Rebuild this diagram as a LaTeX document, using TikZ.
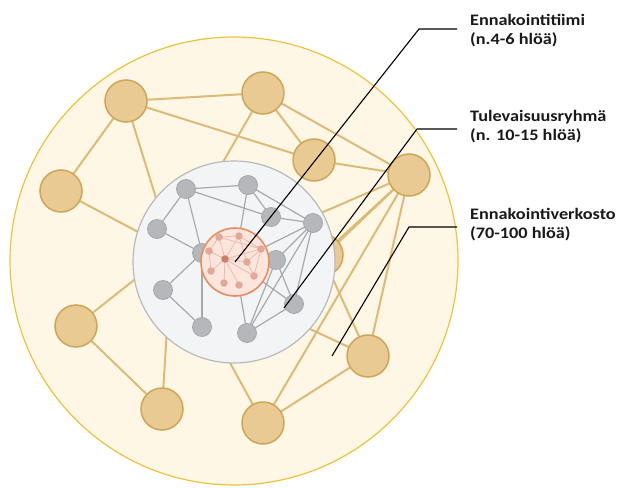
\documentclass[tikz,border=0pt]{standalone}
\usepackage{fontspec}
\setmainfont{Carlito}
\definecolor{creamfill}{RGB}{254,247,230}
\definecolor{creamline}{RGB}{238,195,60}
\definecolor{tanfill}{RGB}{232,202,146}
\definecolor{tanline}{RGB}{206,166,88}
\definecolor{tanedge}{RGB}{221,187,118}
\definecolor{greyfill}{RGB}{243,244,246}
\definecolor{greyline}{RGB}{185,186,190}
\definecolor{greynodefill}{RGB}{182,183,186}
\definecolor{greyedge}{RGB}{168,169,172}
\definecolor{pinkfill}{RGB}{251,229,221}
\definecolor{pinkline}{RGB}{233,140,98}
\definecolor{pinknode}{RGB}{228,168,150}
\definecolor{pinkcore}{RGB}{201,128,108}
\definecolor{pinkedge}{RGB}{236,183,166}
\begin{document}
\begin{tikzpicture}[
  x=1pt, y=-1pt,
  tannode/.style={circle, draw=tanline, fill=tanfill, line width=1.5pt, minimum size=42pt, inner sep=0pt},
  tanlink/.style={draw=tanedge, line width=2pt},
  greynode/.style={circle, draw=greyedge, fill=greynodefill, line width=0.8pt, minimum size=19pt, inner sep=0pt},
  greylink/.style={draw=greyedge, line width=1.2pt},
  pinknode/.style={circle, fill=pinknode, minimum size=7.5pt, inner sep=0pt},
  pinklink/.style={draw=pinkedge, line width=0.7pt},
  leader/.style={draw=black, line width=1.1pt},
  caption/.style={anchor=north west, align=left, inner sep=0pt, text=black!90,
    font=\bfseries\addfontfeature{FakeStretch=1.14}\fontsize{16}{19.5}\selectfont}
]
\useasboundingbox (0,0) rectangle (618,487);

% Outer network
\node[circle, draw=creamline, fill=creamfill, line width=1.2pt, minimum size=448pt, inner sep=0pt] (verkosto) at (234,261) {};

% Hidden ends under the inner circle
\coordinate (hidA) at (172,250);
\coordinate (hidB) at (300,222);
\coordinate (hidC) at (282,296);
\coordinate (hidD) at (212,330);
\coordinate (hidE) at (282,316);

% Links of the outer network
\draw[tanlink] (126,101) coordinate (t1) -- (263,93) coordinate (t2);
\draw[tanlink] (t1) -- (61,191) coordinate (t3);
\draw[tanlink] (t1) -- (hidA);
\draw[tanlink] (t1) -- (314,160) coordinate (t4);
\draw[tanlink] (t2) -- (t4);
\draw[tanlink] (t2) -- (409,175) coordinate (t5);
\draw[tanlink] (t2) -- (hidA);
\draw[tanlink] (t3) -- (hidA);
\draw[tanlink] (t4) -- (t5);
\draw[tanlink] (t5) -- (hidB);
\draw[tanlink] (t5) -- (hidC);
\draw[tanlink] (t5) -- (322,255) coordinate (t6);
\draw[tanlink] (t5) -- (263,423) coordinate (t9);
\draw[tanlink] (t5) -- (368,356) coordinate (t7);
\draw[tanlink] (t6) -- (t7);
\draw[tanlink] (t7) -- (t9);
\draw[tanlink] (t7) -- (hidE);
\draw[tanlink] (t9) -- (hidD);
\draw[tanlink] (76,326) coordinate (t10) -- (hidA);
\draw[tanlink] (t10) -- (162,409) coordinate (t8);
\draw[tanlink] (t8) -- (hidA);

% Nodes of the outer network
\node[tannode] (n1) at (t1) {};
\node[tannode] (n2) at (t2) {};
\node[tannode] (n3) at (t3) {};
\node[tannode] (n4) at (t4) {};
\node[tannode] (n5) at (t5) {};
\node[tannode] (n6) at (t6) {};
\node[tannode] (n7) at (t7) {};
\node[tannode] (n8) at (t8) {};
\node[tannode] (n9) at (t9) {};
\node[tannode] (n10) at (t10) {};

% Middle group
\node[circle, draw=greyline, fill=greyfill, line width=1.2pt, minimum size=202pt, inner sep=0pt] (ryhma) at (234,262) {};

\coordinate (g1) at (186,189);
\coordinate (g2) at (248,185);
\coordinate (g3) at (157,229);
\coordinate (g4) at (271,217);
\coordinate (g5) at (313,223);
\coordinate (g6) at (202,253);
\coordinate (g7) at (276,260);
\coordinate (g8) at (163,290);
\coordinate (g9) at (294,304);
\coordinate (g10) at (202,327);
\coordinate (g11) at (247,333);
\coordinate (hub) at (235,262);

\draw[greylink] (g1) -- (g2);
\draw[greylink] (g1) -- (g3);
\draw[greylink] (g1) -- (g6);
\draw[greylink] (g1) -- (g4);
\draw[greylink] (g2) -- (g4);
\draw[greylink] (g2) -- (g5);
\draw[greylink] (g2) -- (hub);
\draw[greylink] (g3) -- (g6);
\draw[greylink] (g4) -- (g5);
\draw[greylink] (g4) -- (hub);
\draw[greylink] (g5) -- (g7);
\draw[greylink] (g5) -- (g9);
\draw[greylink] (g5) -- (g11);
\draw[greylink] (g5) -- (hub);
\draw[greylink] (g6) -- (g8);
\draw[greylink] (g6) -- (g10);
\draw[greylink] (g8) -- (g10);
\draw[greylink] (g7) -- (g9);
\draw[greylink] (g7) -- (g11);
\draw[greylink] (g9) -- (g11);
\draw[greylink] (g9) -- (hub);
\draw[greylink] (g11) -- (hub);

\node[greynode] (m1) at (g1) {};
\node[greynode] (m2) at (g2) {};
\node[greynode] (m3) at (g3) {};
\node[greynode] (m4) at (g4) {};
\node[greynode] (m5) at (g5) {};
\node[greynode] (m6) at (g6) {};
\node[greynode] (m7) at (g7) {};
\node[greynode] (m8) at (g8) {};
\node[greynode] (m9) at (g9) {};
\node[greynode] (m10) at (g10) {};
\node[greynode] (m11) at (g11) {};

% Core team
\node[circle, draw=pinkline, fill=pinkfill, line width=1.6pt, minimum size=68pt, inner sep=0pt] (tiimi) at (hub) {};

\coordinate (p0) at (225,259);
\coordinate (p1) at (219,237);
\coordinate (p2) at (239,236);
\coordinate (p3) at (261,249);
\coordinate (p4) at (209,251);
\coordinate (p5) at (247,262);
\coordinate (p6) at (254,276);
\coordinate (p7) at (211,271);
\coordinate (p8) at (224,283);
\coordinate (p9) at (239,285);

\draw[pinklink] (p0) -- (p1) (p0) -- (p2) (p0) -- (p3) (p0) -- (p4) (p0) -- (p5)
  (p0) -- (p6) (p0) -- (p7) (p0) -- (p8) (p0) -- (p9);
\draw[pinklink] (p1) -- (p2) -- (p3) (p1) -- (p3) (p2) -- (p5) (p3) -- (p5)
  (p3) -- (p6) (p1) -- (p4) (p4) -- (p7) (p5) -- (p6);

\node[pinknode, fill=pinkcore] (q0) at (p0) {};
\node[pinknode] (q1) at (p1) {};
\node[pinknode] (q2) at (p2) {};
\node[pinknode] (q3) at (p3) {};
\node[pinknode] (q4) at (p4) {};
\node[pinknode] (q5) at (p5) {};
\node[pinknode] (q6) at (p6) {};
\node[pinknode] (q7) at (p7) {};
\node[pinknode] (q8) at (p8) {};
\node[pinknode] (q9) at (p9) {};

% Captions
\node[caption] (cap1) at (470,14) {Ennakointitiimi\\(n.4-6 hlöä)};
\node[caption] (cap2) at (470,110) {Tulevaisuusryhmä\\(n. 10-15 hlöä)};
\node[caption] (cap3) at (470,208) {Ennakointiverkosto\\(70-100 hlöä)};

% Leader lines
\coordinate (tip1) at (235,262);
\coordinate (knee1) at (419,29);
\coordinate (end1) at (457,29);
\coordinate (tip2) at (284,308);
\coordinate (knee2) at (417,129);
\coordinate (end2) at (457,129);
\coordinate (tip3) at (332,356);
\coordinate (knee3) at (409,227);
\coordinate (end3) at (457,227);
\draw[leader] (tip1) -- (knee1) -- (end1);
\draw[leader] (tip2) -- (knee2) -- (end2);
\draw[leader] (tip3) -- (knee3) -- (end3);
\end{tikzpicture}
\end{document}
